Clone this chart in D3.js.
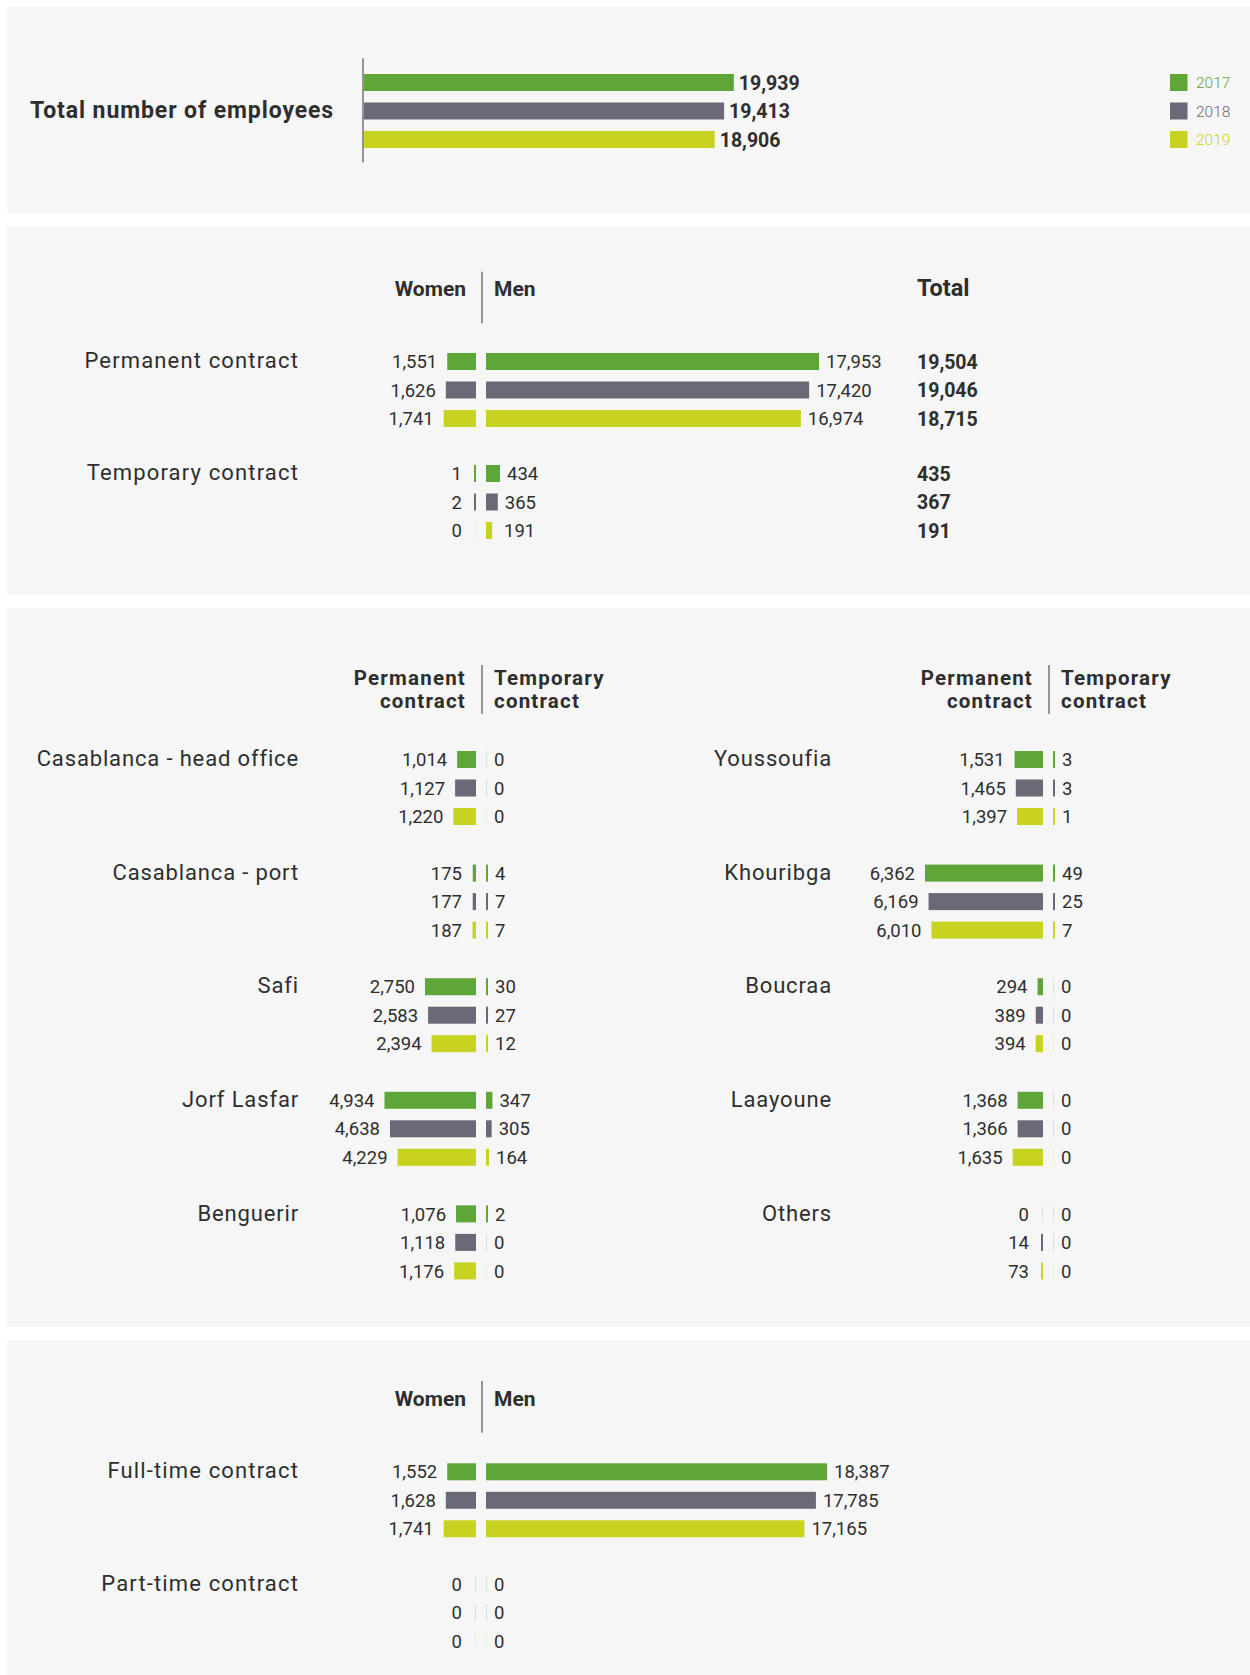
<!DOCTYPE html>
<html><head><meta charset="utf-8">
<script src="https://cdn.jsdelivr.net/npm/d3@7"></script>
<style>
body{margin:0;background:#fff;}
svg{display:block;font-family:Roboto,"DejaVu Sans",sans-serif;}
</style></head><body>
<svg id="chart" width="1250" height="1675"></svg>
<script>
// ---------- DATA ----------
const years = ["2017","2018","2019"];
const yearColors = ["#5ea637","#6a6977","#c8d321"];
const totalEmployees = [19939,19413,18906];

const contractTypes = ["Permanent contract","Temporary contract"];
const contractWomen = [[1551,1626,1741],[1,2,0]];
const contractMen   = [[17953,17420,16974],[434,365,191]];
const contractTotal = [[19504,19046,18715],[435,367,191]];

const sitesLeft  = ["Casablanca - head office","Casablanca - port","Safi","Jorf Lasfar","Benguerir"];
const permanentLeft = [[1014,1127,1220],[175,177,187],[2750,2583,2394],[4934,4638,4229],[1076,1118,1176]];
const temporaryLeft = [[0,0,0],[4,7,7],[30,27,12],[347,305,164],[2,0,0]];
const sitesRight = ["Youssoufia","Khouribga","Boucraa","Laayoune","Others"];
const permanentRight = [[1531,1465,1397],[6362,6169,6010],[294,389,394],[1368,1366,1635],[0,14,73]];
const temporaryRight = [[3,3,1],[49,25,7],[0,0,0],[0,0,0],[0,0,0]];

const workTimeTypes = ["Full-time contract","Part-time contract"];
const workWomen = [[1552,1628,1741],[0,0,0]];
const workMen   = [[18387,17785,17165],[0,0,0]];

// ---------- SETUP ----------
const svg = d3.select("#chart");
const fmt = d3.format(",");
const TXT = "#2e2e2e";
const wScale = d3.scaleLinear().domain([0,20000]).range([0,371]);
const wTemp  = d3.scaleLinear().domain([0,434]).range([0,14]);

const panels = [[7,213],[226.7,595],[608.3,1326.7],[1340,1675]];
svg.selectAll("rect.panel").data(panels).join("rect")
  .attr("class","panel").attr("x",7).attr("y",d=>d[0])
  .attr("width",1243).attr("height",d=>d[1]-d[0]).attr("fill","#f6f6f6");

function rowBand(top){
  return d3.scaleBand().domain(years).range([top, top+74]).paddingInner(0.4035).paddingOuter(0);
}
const barW = (s,v) => v === 0 ? 1 : Math.max(2, s(v));

// ---------- PANEL 1 ----------
const p1 = svg.append("g");
const y1 = rowBand(74);
const x1 = d3.scaleLinear().domain([0,20000]).range([364, 735]);
p1.append("text").attr("x",30).attr("y",118.3).attr("font-size",23).attr("font-weight",700)
  .attr("letter-spacing",0.9).attr("fill",TXT).text("Total number of employees");
p1.append("line").attr("x1",363).attr("x2",363).attr("y1",58.3).attr("y2",162.3)
  .attr("stroke","#333").attr("stroke-width",1);
p1.selectAll("rect.bar").data(totalEmployees).join("rect")
  .attr("x",x1(0)).attr("y",(d,i)=>y1(years[i])).attr("width",d=>x1(d)-x1(0))
  .attr("height",y1.bandwidth()).attr("fill",(d,i)=>yearColors[i]);
p1.selectAll("text.val").data(totalEmployees).join("text")
  .attr("x",d=>x1(d)+5).attr("y",(d,i)=>y1(years[i])+y1.bandwidth()/2).attr("dy","0.36em")
  .attr("font-size",19.5).attr("font-weight",700).attr("fill",TXT).text(d=>fmt(d));
// legend
p1.selectAll("rect.leg").data(years).join("rect")
  .attr("x",1170).attr("y",d=>y1(d)).attr("width",17.5).attr("height",y1.bandwidth())
  .attr("fill",(d,i)=>yearColors[i]);
p1.selectAll("text.leg").data(years).join("text")
  .attr("x",1196).attr("y",d=>y1(d)+y1.bandwidth()/2).attr("dy","0.36em")
  .attr("font-size",15.5).attr("font-weight",300).attr("fill",(d,i)=>yearColors[i]).text(d=>d);

// ---------- generic diverging group ----------
function group(g, cfg){
  const yb = rowBand(cfg.top);
  const L = cfg.cx - 5.5, R = cfg.cx + 4.5;
  const rows = years.map((y,i)=>({y, i, l: cfg.left[i], r: cfg.right[i]}));
  g.append("text").attr("x",cfg.labelX).attr("y",yb(years[0])+yb.bandwidth()/2).attr("dy","0.3em")
    .attr("text-anchor","end").attr("font-size",22).attr("letter-spacing",cfg.labelLS || 0.8)
    .attr("fill",TXT).text(cfg.label);
  g.selectAll("rect.l").data(rows).join("rect").attr("class","l")
    .attr("x",d=>L-barW(cfg.lScale,d.l)).attr("y",d=>yb(d.y))
    .attr("width",d=>barW(cfg.lScale,d.l)).attr("height",yb.bandwidth())
    .attr("fill",d=>yearColors[d.i]).attr("opacity",d=>d.l===0?0.18:1);
  g.selectAll("rect.r").data(rows).join("rect").attr("class","r")
    .attr("x",R).attr("y",d=>yb(d.y))
    .attr("width",d=>barW(cfg.rScale,d.r)).attr("height",yb.bandwidth())
    .attr("fill",d=>yearColors[d.i]).attr("opacity",d=>d.r===0?0.18:1);
  g.selectAll("text.l").data(rows).join("text").attr("class","l")
    .attr("x",d=>Math.min(L-barW(cfg.lScale,d.l)-10, L-14)).attr("y",d=>yb(d.y)+yb.bandwidth()/2).attr("dy","0.36em")
    .attr("text-anchor","end").attr("font-size",18.5).attr("fill",TXT).text(d=>fmt(d.l));
  g.selectAll("text.r").data(rows).join("text").attr("class","r")
    .attr("x",d=>Math.max(R+barW(cfg.rScale,d.r)+7, R+(cfg.rMin||0))).attr("y",d=>yb(d.y)+yb.bandwidth()/2).attr("dy","0.36em")
    .attr("font-size",18.5).attr("fill",TXT).text(d=>fmt(d.r));
  if(cfg.totals){
    g.selectAll("text.t").data(rows).join("text").attr("class","t")
      .attr("x",cfg.totalX).attr("y",d=>yb(d.y)+yb.bandwidth()/2).attr("dy","0.36em")
      .attr("font-size",19.5).attr("font-weight",700).attr("fill",TXT).text((d)=>fmt(cfg.totals[d.i]));
  }
}
function header(g, cx, baseline, leftLines, rightLines, size, ls, sepTop, sepBot){
  leftLines.forEach((t,k)=>g.append("text").attr("x",cx-15.5).attr("y",baseline+k*23.3)
    .attr("text-anchor","end").attr("font-size",size).attr("font-weight",700).attr("letter-spacing",ls)
    .attr("fill",TXT).text(t));
  rightLines.forEach((t,k)=>g.append("text").attr("x",cx+12.5).attr("y",baseline+k*23.3)
    .attr("font-size",size).attr("font-weight",700).attr("letter-spacing",ls)
    .attr("fill",TXT).text(t));
  g.append("line").attr("x1",cx+0.5).attr("x2",cx+0.5).attr("y1",sepTop).attr("y2",sepBot)
    .attr("stroke","#333").attr("stroke-width",1);
}

// ---------- PANEL 2 ----------
const p2 = svg.append("g");
header(p2, 481.5, 296, ["Women"], ["Men"], 21, 0, 271.7, 323.3);
p2.append("text").attr("x",917).attr("y",296).attr("font-size",23.5).attr("font-weight",700)
  .attr("fill",TXT).text("Total");
const p2Top = d3.scaleLinear().domain([0,1]).range([353, 465]);
contractTypes.forEach((c,k)=>{
  group(p2.append("g"), {top:p2Top(k), cx:481.5, left:contractWomen[k], right:contractMen[k],
    lScale: k===0?wScale:wTemp, rScale: k===0?wScale:wTemp, rMin: k===0?0:18,
    label:c, labelX:299, labelLS:1.15, totals:contractTotal[k], totalX:917});
});

// ---------- PANEL 3 ----------
const p3 = svg.append("g");
header(p3, 481.5, 685, ["Permanent","contract"], ["Temporary","contract"], 20.5, 1.2, 665, 714);
header(p3, 1048.5, 685, ["Permanent","contract"], ["Temporary","contract"], 20.5, 1.2, 665, 714);
const p3Top = d3.scaleLinear().domain([0,4]).range([751, 751+4*113.6]);
sitesLeft.forEach((s,k)=>group(p3.append("g"), {top:p3Top(k), cx:481.5,
  left:permanentLeft[k], right:temporaryLeft[k], lScale:wScale, rScale:wScale, label:s, labelX:299, labelLS:0.85}));
sitesRight.forEach((s,k)=>group(p3.append("g"), {top:p3Top(k), cx:1048.5,
  left:permanentRight[k], right:temporaryRight[k], lScale:wScale, rScale:wScale, label:s, labelX:832, labelLS:0.85}));

// ---------- PANEL 4 ----------
const p4 = svg.append("g");
header(p4, 481.5, 1406, ["Women"], ["Men"], 21, 0, 1381, 1432.7);
const p4Top = d3.scaleLinear().domain([0,1]).range([1463.3, 1575.5]);
workTimeTypes.forEach((c,k)=>group(p4.append("g"), {top:p4Top(k), cx:481.5,
  left:workWomen[k], right:workMen[k], lScale:wScale, rScale:wScale, label:c, labelX:299, labelLS:1.15}));
</script>
</body></html>
